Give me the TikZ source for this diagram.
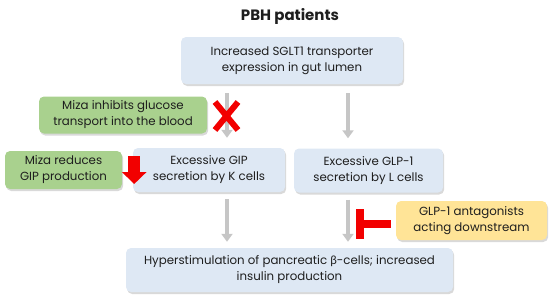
\documentclass[tikz,border=0pt]{standalone}
\usepackage{fontspec}
\setmainfont{Poppins}
\newfontfamily\grk{Lato}
\usetikzlibrary{arrows.meta,shadows}
\definecolor{PathBlue}{HTML}{DEE8F4}
\definecolor{DrugGreen}{HTML}{A9D18E}
\definecolor{AntiYellow}{HTML}{FFE497}
\definecolor{FlowGray}{HTML}{C6C6C6}
\definecolor{BlockRed}{HTML}{F20000}
\definecolor{TextDark}{HTML}{1E1E1E}
\tikzset{
  box/.style={rounded corners=5pt,align=center,inner sep=0pt,text=TextDark,
    font=\fontsize{11.8}{16}\selectfont,
    drop shadow={shadow xshift=1.2pt,shadow yshift=-2pt,opacity=.3}},
  pathbox/.style={box,fill=PathBlue},
  drugbox/.style={box,fill=DrugGreen},
  antibox/.style={box,fill=AntiYellow},
  flow/.style={line width=4pt,FlowGray,-{Triangle[width=11pt,length=8pt]}},
  inhibit/.style={line width=8pt,BlockRed,-{Bar[width=30pt]}},
}

\begin{document}
\begin{tikzpicture}[x=1pt,y=-1pt]
  \useasboundingbox (0,0) rectangle (552,301);
  \node[font=\bfseries\fontsize{15}{18}\selectfont,text=TextDark] (title) at (290,16) {PBH patients};
  \node[pathbox,minimum width=222pt,minimum height=47pt] (sglt) at (292,60.5)
    {Increased SGLT1 transporter\\expression in gut lumen};
  \node[drugbox,minimum width=168pt,minimum height=37pt] (inhib) at (123,115)
    {Miza inhibits glucose\\transport into the blood};
  \node[drugbox,minimum width=117pt,minimum height=38pt] (reduce) at (63.5,170)
    {Miza reduces\\GIP production};
  \node[pathbox,minimum width=152pt,minimum height=44pt] (gip) at (209,170)
    {Excessive GIP\\secretion by K cells};
  \node[pathbox,minimum width=149pt,minimum height=44pt] (glp) at (368.5,170.5)
    {Excessive GLP-1\\secretion by L cells};
  \node[antibox,minimum width=151pt,minimum height=39pt] (antag) at (471.5,220.5)
    {GLP-1 antagonists\\acting downstream};
  \node[pathbox,minimum width=327pt,minimum height=44pt] (beta) at (289.5,270)
    {Hyperstimulation of pancreatic {\grk β}-cells; increased\\insulin production};

  % gray flow arrows
  \coordinate (lx) at (227,0);
  \coordinate (rx) at (348,0);
  \draw[flow,shorten <=9pt,shorten >=10pt] (sglt.south -| lx) -- (gip.north -| lx);
  \draw[flow,shorten <=9pt,shorten >=10pt] (sglt.south -| rx) -- (glp.north -| rx);
  \draw[flow,shorten <=7pt,shorten >=6pt] (gip.south -| lx) -- (beta.north -| lx);
  \draw[flow,shorten <=7pt,shorten >=6pt] (glp.south -| rx) -- (beta.north -| rx);

  % drug effects
  \draw[BlockRed,line width=6pt] (215,102) -- (238,130) (238,102) -- (215,130);
  \draw[BlockRed,line width=12pt,-{Triangle[width=24pt,length=12pt]}]
    ([xshift=12pt,yshift=14pt]reduce.east) -- ++(0,28);
  \draw[inhibit] ([xshift=-5pt,yshift=-3pt]antag.west) -- ++(-35,0);
\end{tikzpicture}
\end{document}
